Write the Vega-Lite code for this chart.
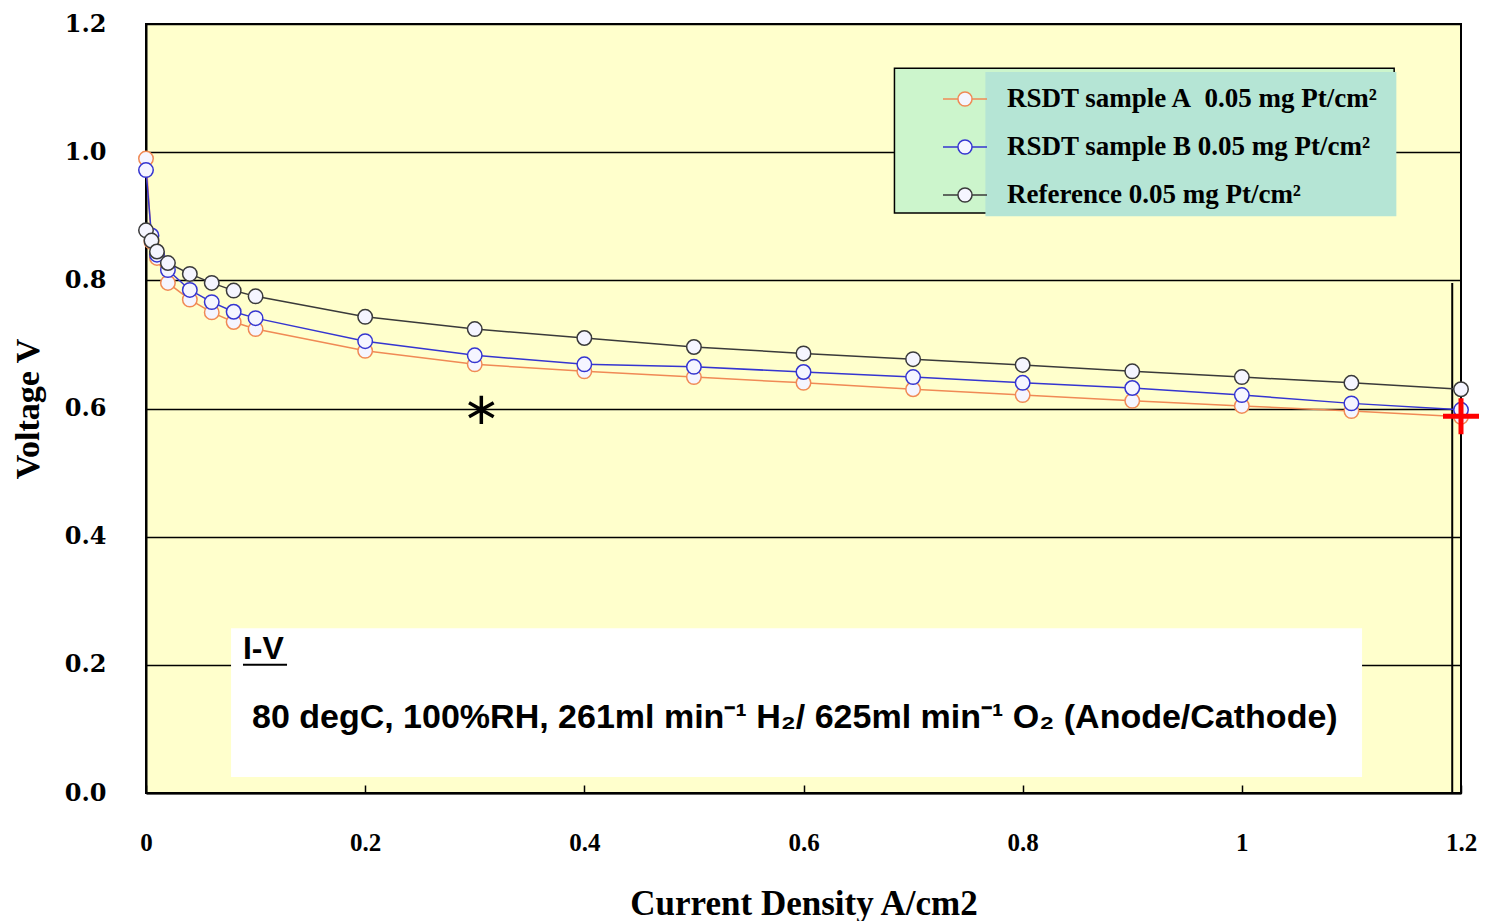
{
  "$schema": "https://vega.github.io/schema/vega-lite/v6.json",
  "width": 1315,
  "height": 769,
  "autosize": {"type": "none"},
  "padding": {"left": 146, "top": 24, "right": 25, "bottom": 128},
  "background": "white",
  "config": {
    "view": {"fill": "#FFFFCC", "stroke": "#000000", "strokeWidth": 2},
    "axis": {"domainColor": "#000", "domainWidth": 2, "labelColor": "#000", "titleColor": "#000"}
  },
  "datasets": {
    "iv": [
      {"series": "RSDT sample A  0.05 mg Pt/cm²", "current": 0, "voltage": 0.99},
      {"series": "RSDT sample A  0.05 mg Pt/cm²", "current": 0.005, "voltage": 0.86},
      {"series": "RSDT sample A  0.05 mg Pt/cm²", "current": 0.01, "voltage": 0.835},
      {"series": "RSDT sample A  0.05 mg Pt/cm²", "current": 0.02, "voltage": 0.796},
      {"series": "RSDT sample A  0.05 mg Pt/cm²", "current": 0.04, "voltage": 0.77},
      {"series": "RSDT sample A  0.05 mg Pt/cm²", "current": 0.06, "voltage": 0.75},
      {"series": "RSDT sample A  0.05 mg Pt/cm²", "current": 0.08, "voltage": 0.735},
      {"series": "RSDT sample A  0.05 mg Pt/cm²", "current": 0.1, "voltage": 0.724},
      {"series": "RSDT sample A  0.05 mg Pt/cm²", "current": 0.2, "voltage": 0.69},
      {"series": "RSDT sample A  0.05 mg Pt/cm²", "current": 0.3, "voltage": 0.669},
      {"series": "RSDT sample A  0.05 mg Pt/cm²", "current": 0.4, "voltage": 0.658},
      {"series": "RSDT sample A  0.05 mg Pt/cm²", "current": 0.5, "voltage": 0.649},
      {"series": "RSDT sample A  0.05 mg Pt/cm²", "current": 0.6, "voltage": 0.64},
      {"series": "RSDT sample A  0.05 mg Pt/cm²", "current": 0.7, "voltage": 0.63},
      {"series": "RSDT sample A  0.05 mg Pt/cm²", "current": 0.8, "voltage": 0.621},
      {"series": "RSDT sample A  0.05 mg Pt/cm²", "current": 0.9, "voltage": 0.612},
      {"series": "RSDT sample A  0.05 mg Pt/cm²", "current": 1.0, "voltage": 0.604},
      {"series": "RSDT sample A  0.05 mg Pt/cm²", "current": 1.1, "voltage": 0.596},
      {"series": "RSDT sample A  0.05 mg Pt/cm²", "current": 1.2, "voltage": 0.587},
      {"series": "RSDT sample B 0.05 mg Pt/cm²", "current": 0, "voltage": 0.972},
      {"series": "RSDT sample B 0.05 mg Pt/cm²", "current": 0.005, "voltage": 0.87},
      {"series": "RSDT sample B 0.05 mg Pt/cm²", "current": 0.01, "voltage": 0.84},
      {"series": "RSDT sample B 0.05 mg Pt/cm²", "current": 0.02, "voltage": 0.816},
      {"series": "RSDT sample B 0.05 mg Pt/cm²", "current": 0.04, "voltage": 0.785},
      {"series": "RSDT sample B 0.05 mg Pt/cm²", "current": 0.06, "voltage": 0.766},
      {"series": "RSDT sample B 0.05 mg Pt/cm²", "current": 0.08, "voltage": 0.751},
      {"series": "RSDT sample B 0.05 mg Pt/cm²", "current": 0.1, "voltage": 0.741},
      {"series": "RSDT sample B 0.05 mg Pt/cm²", "current": 0.2, "voltage": 0.705},
      {"series": "RSDT sample B 0.05 mg Pt/cm²", "current": 0.3, "voltage": 0.683},
      {"series": "RSDT sample B 0.05 mg Pt/cm²", "current": 0.4, "voltage": 0.669},
      {"series": "RSDT sample B 0.05 mg Pt/cm²", "current": 0.5, "voltage": 0.665},
      {"series": "RSDT sample B 0.05 mg Pt/cm²", "current": 0.6, "voltage": 0.657},
      {"series": "RSDT sample B 0.05 mg Pt/cm²", "current": 0.7, "voltage": 0.649},
      {"series": "RSDT sample B 0.05 mg Pt/cm²", "current": 0.8, "voltage": 0.64},
      {"series": "RSDT sample B 0.05 mg Pt/cm²", "current": 0.9, "voltage": 0.632},
      {"series": "RSDT sample B 0.05 mg Pt/cm²", "current": 1.0, "voltage": 0.621},
      {"series": "RSDT sample B 0.05 mg Pt/cm²", "current": 1.1, "voltage": 0.608},
      {"series": "RSDT sample B 0.05 mg Pt/cm²", "current": 1.2, "voltage": 0.598},
      {"series": "Reference 0.05 mg Pt/cm²", "current": 0, "voltage": 0.878},
      {"series": "Reference 0.05 mg Pt/cm²", "current": 0.005, "voltage": 0.862},
      {"series": "Reference 0.05 mg Pt/cm²", "current": 0.01, "voltage": 0.845},
      {"series": "Reference 0.05 mg Pt/cm²", "current": 0.02, "voltage": 0.827},
      {"series": "Reference 0.05 mg Pt/cm²", "current": 0.04, "voltage": 0.81},
      {"series": "Reference 0.05 mg Pt/cm²", "current": 0.06, "voltage": 0.796},
      {"series": "Reference 0.05 mg Pt/cm²", "current": 0.08, "voltage": 0.784},
      {"series": "Reference 0.05 mg Pt/cm²", "current": 0.1, "voltage": 0.775},
      {"series": "Reference 0.05 mg Pt/cm²", "current": 0.2, "voltage": 0.743},
      {"series": "Reference 0.05 mg Pt/cm²", "current": 0.3, "voltage": 0.724},
      {"series": "Reference 0.05 mg Pt/cm²", "current": 0.4, "voltage": 0.71},
      {"series": "Reference 0.05 mg Pt/cm²", "current": 0.5, "voltage": 0.696},
      {"series": "Reference 0.05 mg Pt/cm²", "current": 0.6, "voltage": 0.686},
      {"series": "Reference 0.05 mg Pt/cm²", "current": 0.7, "voltage": 0.677},
      {"series": "Reference 0.05 mg Pt/cm²", "current": 0.8, "voltage": 0.668},
      {"series": "Reference 0.05 mg Pt/cm²", "current": 0.9, "voltage": 0.658},
      {"series": "Reference 0.05 mg Pt/cm²", "current": 1.0, "voltage": 0.649},
      {"series": "Reference 0.05 mg Pt/cm²", "current": 1.1, "voltage": 0.64},
      {"series": "Reference 0.05 mg Pt/cm²", "current": 1.2, "voltage": 0.63}
    ]
  },
  "encoding": {
    "x": {"field": "current", "type": "quantitative", "scale": {"domain": [0, 1.2], "nice": false, "zero": false},
      "axis": {"title": "Current Density A/cm2", "values": [0, 0.2, 0.4, 0.6, 0.8, 1, 1.2], "format": "~g", "grid": false,
        "tickSize": -8, "tickColor": "#000", "tickWidth": 1.5, "labelPadding": 45, "labelFlush": false,
        "labelFont": "Liberation Serif", "labelFontSize": 25, "labelFontWeight": "bold",
        "titleFont": "Liberation Serif", "titleFontSize": 35, "titleFontWeight": "bold", "titleBaseline": "middle", "titleY": 110}},
    "y": {"field": "voltage", "type": "quantitative", "scale": {"domain": [0, 1.2], "nice": false, "zero": false},
      "axis": {"title": "Voltage V", "values": [0, 0.2, 0.4, 0.6, 0.8, 1.0, 1.2], "format": ".1f", "grid": true, "gridColor": "#000", "gridWidth": 1.5, "gridOpacity": 1,
        "ticks": false, "labelPadding": 40,
        "labelFont": "DejaVu Serif", "labelFontSize": 24, "labelFontWeight": "bold",
        "titleFont": "Liberation Serif", "titleFontSize": 34, "titleFontWeight": "bold", "titleBaseline": "middle", "titleX": -118}}
  },
  "layer": [
    {
      "data": {"values": [{"x1": 0.683, "x2": 1.139, "y1": 1.131, "y2": 0.905}]},
      "mark": {"type": "rect", "fill": "#CCF5CC", "stroke": "#000", "strokeWidth": 1.5},
      "encoding": {"x": {"field": "x1", "type": "quantitative"}, "x2": {"field": "x2"}, "y": {"field": "y1", "type": "quantitative"}, "y2": {"field": "y2"}}
    },
    {
      "data": {"values": [{"x1": 0.766, "x2": 1.141, "y1": 1.125, "y2": 0.9}]},
      "mark": {"type": "rect", "fill": "#B5E5D5"},
      "encoding": {"x": {"field": "x1", "type": "quantitative"}, "x2": {"field": "x2"}, "y": {"field": "y1", "type": "quantitative"}, "y2": {"field": "y2"}}
    },
    {
      "data": {"values": [{"x1": 0.0776, "x2": 1.1097, "y1": 0.257, "y2": 0.025}]},
      "mark": {"type": "rect", "fill": "#FFFFFF"},
      "encoding": {"x": {"field": "x1", "type": "quantitative"}, "x2": {"field": "x2"}, "y": {"field": "y1", "type": "quantitative"}, "y2": {"field": "y2"}}
    },
    {
      "data": {"values": [{"x": 1.192, "y1": 0.796, "y2": 0}]},
      "mark": {"type": "rule", "color": "#000", "strokeWidth": 2},
      "encoding": {"x": {"field": "x", "type": "quantitative"}, "y": {"field": "y1", "type": "quantitative"}, "y2": {"field": "y2"}}
    },
    {
      "data": {"name": "iv"},
      "mark": {"type": "line", "strokeWidth": 1.5},
      "encoding": {
        "color": {"field": "series", "type": "nominal",
          "scale": {"domain": ["RSDT sample A  0.05 mg Pt/cm²", "RSDT sample B 0.05 mg Pt/cm²", "Reference 0.05 mg Pt/cm²"], "range": ["#F08A55", "#3535D0", "#3A3A3A"]},
          "legend": {"title": null, "orient": "none", "legendX": 796, "legendY": 52, "padding": 0,
            "labelExpr": "replace(datum.label, 'A  0', 'A\u00a0\u00a00')",
            "symbolType": "M-1,0L-0.32,0M0.32,0A0.32,0.32,0,1,1,-0.32,0A0.32,0.32,0,1,1,0.32,0M0.32,0L1,0",
            "symbolSize": 1936, "symbolStrokeWidth": 1.5, "symbolFillColor": "#F5F5FF",
            "labelFont": "Liberation Serif", "labelFontSize": 27, "labelFontWeight": "bold", "labelColor": "#000",
            "labelOffset": 19, "rowPadding": 12, "labelLimit": 600}},
        "detail": {"field": "series"}
      }
    },
    {
      "data": {"name": "iv"},
      "mark": {"type": "point", "shape": "circle", "filled": false, "fill": "#F5F5FF", "fillOpacity": 1, "size": 210, "strokeWidth": 1.5, "opacity": 1},
      "encoding": {
        "color": {"field": "series", "type": "nominal"}
      }
    },
    {
      "data": {"values": [{"x": 0.0885, "y": 0.224, "label": "I-V"}]},
      "mark": {"type": "text", "align": "left", "baseline": "middle", "font": "Liberation Sans", "fontSize": 32, "fontWeight": "bold", "color": "#000"},
      "encoding": {"x": {"field": "x", "type": "quantitative"}, "y": {"field": "y", "type": "quantitative"}, "text": {"field": "label"}}
    },
    {
      "data": {"values": [{"x1": 0.0885, "x2": 0.1287, "y": 0.2}]},
      "mark": {"type": "rule", "color": "#000", "strokeWidth": 2},
      "encoding": {"x": {"field": "x1", "type": "quantitative"}, "x2": {"field": "x2"}, "y": {"field": "y", "type": "quantitative"}}
    },
    {
      "data": {"values": [{"x": 0.0967, "y": 0.117, "label": "80 degC, 100%RH, 261ml min⁻¹ H₂/ 625ml min⁻¹ O₂ (Anode/Cathode)"}]},
      "mark": {"type": "text", "align": "left", "baseline": "middle", "font": "Liberation Sans", "fontSize": 34, "fontWeight": "bold", "color": "#000"},
      "encoding": {"x": {"field": "x", "type": "quantitative"}, "y": {"field": "y", "type": "quantitative"}, "text": {"field": "label"}}
    },
    {
      "data": {"values": [{"x": 0.306, "y": 0.598}]},
      "mark": {"type": "point", "shape": "M0,-1L0,1M-0.87,-0.5L0.87,0.5M-0.87,0.5L0.87,-0.5", "size": 800, "stroke": "#000", "strokeWidth": 3.5, "filled": false, "opacity": 1},
      "encoding": {"x": {"field": "x", "type": "quantitative"}, "y": {"field": "y", "type": "quantitative"}}
    },
    {
      "data": {"values": [{"x": 1.2, "y": 0.588}]},
      "mark": {"type": "point", "shape": "M-1,0L1,0M0,-1L0,1", "size": 1296, "stroke": "#FF0000", "strokeWidth": 5, "filled": false, "opacity": 1},
      "encoding": {"x": {"field": "x", "type": "quantitative"}, "y": {"field": "y", "type": "quantitative"}}
    }
  ]
}
